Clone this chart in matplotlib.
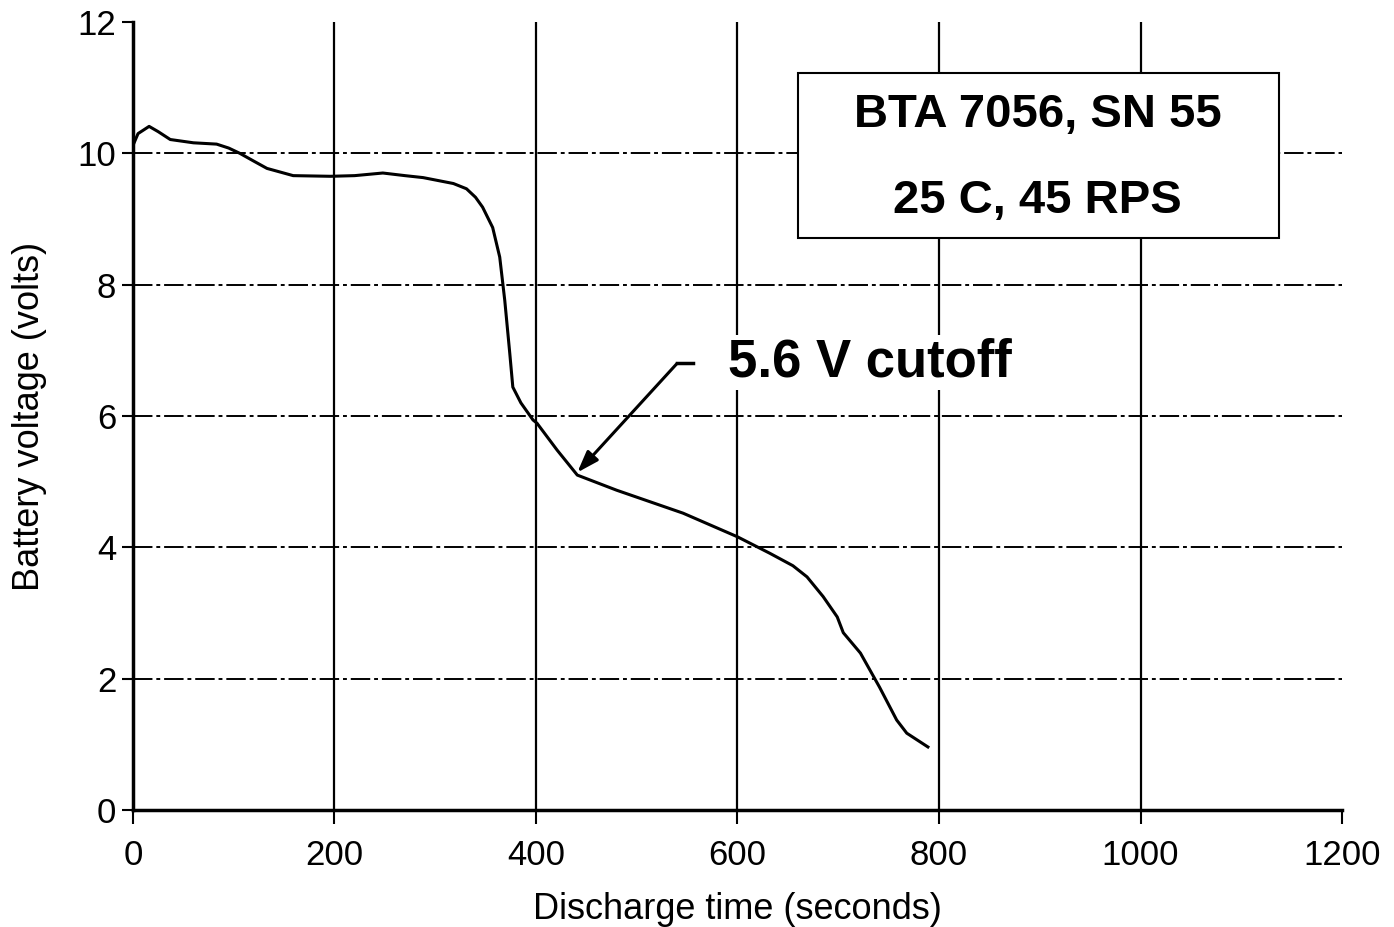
import matplotlib
matplotlib.use("Agg")
import matplotlib.pyplot as plt
from matplotlib.patches import Rectangle

# datos
tiempo = [0, 5, 16, 25, 37, 60, 83, 95, 106, 120, 133, 159, 196, 220, 248, 270, 288, 318,
          331, 340, 347, 357, 364, 369, 374, 377, 385, 397, 401, 421, 441, 480, 546, 600,
          632, 655, 669, 685, 699, 705, 722, 741, 758, 768, 789]
voltaje = [10.12, 10.3, 10.41, 10.33, 10.21, 10.16, 10.14, 10.08, 10.0, 9.88, 9.77, 9.66,
           9.65, 9.66, 9.70, 9.66, 9.63, 9.54, 9.46, 9.33, 9.18, 8.87, 8.42, 7.76, 6.95,
           6.44, 6.2, 5.94, 5.89, 5.48, 5.10, 4.87, 4.52, 4.16, 3.91, 3.72, 3.55, 3.25,
           2.94, 2.70, 2.39, 1.87, 1.37, 1.17, 0.96]

xticks = [0, 200, 400, 600, 800, 1000, 1200]
yticks = [0, 2, 4, 6, 8, 10, 12]

lineas_caja = ["BTA 7056, SN 55", "25 C, 45 RPS"]
texto_corte = "5.6 V cutoff"
punta_flecha = (441, 5.14)   # donde apunta la flecha
codo_flecha = (540, 6.80)
cola_flecha = (556, 6.80)

plt.rcParams['font.family'] = ['Liberation Sans', 'DejaVu Sans']

fig = plt.figure(figsize=(13.94, 9.27), dpi=100)
ax = fig.add_axes([0.0954, 0.1262, 0.8673, 0.8501])

# grilla: verticales solidas, horizontales raya-punto
for x in xticks[1:-1]:
    ax.axvline(x, color='black', lw=1.6, zorder=1)
for y in yticks[1:-1]:
    ax.axhline(y, color='black', lw=1.4, linestyle=(0, (10, 2, 2, 2)), zorder=1)

ax.plot(tiempo, voltaje, color='black', lw=2.2, zorder=3)

ax.set_xlim(0, 1200)
ax.set_ylim(0, 12)
ax.set_xticks(xticks)
ax.set_yticks(yticks)
ax.tick_params(axis='both', labelsize=25, width=1.5, color='black')
ax.tick_params(axis='x', length=10, pad=11)
ax.tick_params(axis='y', length=8, pad=4)
ax.spines['top'].set_visible(False)
ax.spines['right'].set_visible(False)
ax.spines['left'].set_linewidth(2.5)
ax.spines['bottom'].set_linewidth(2.5)

ax.set_xlabel("Discharge time (seconds)", fontsize=26, labelpad=14)
ax.set_ylabel("Battery voltage (volts)", fontsize=26, labelpad=22)

# caja con los datos del ensayo
ax.add_patch(Rectangle((660, 8.71), 477, 2.52, facecolor='white', edgecolor='black',
                       lw=1.5, zorder=5))
ax.text(898, 10.58, lineas_caja[0], fontsize=34, fontweight='bold', ha='center',
        va='center', zorder=6)
ax.text(898, 9.28, lineas_caja[1], fontsize=34, fontweight='bold', ha='center',
        va='center', zorder=6)

# anotacion del corte
ax.text(591, 6.82, texto_corte, fontsize=38, fontweight='bold', ha='left', va='center',
        zorder=5, bbox=dict(facecolor='white', edgecolor='none', pad=2))
ax.plot([cola_flecha[0], codo_flecha[0]], [cola_flecha[1], codo_flecha[1]],
        color='black', lw=2.5, zorder=4)
ax.annotate("", xy=punta_flecha, xytext=codo_flecha, zorder=4,
            arrowprops=dict(arrowstyle='-|>,head_length=1.3,head_width=0.45',
                            color='black', lw=2.2, shrinkA=0, shrinkB=0))

fig.savefig("out.png", dpi=100)
